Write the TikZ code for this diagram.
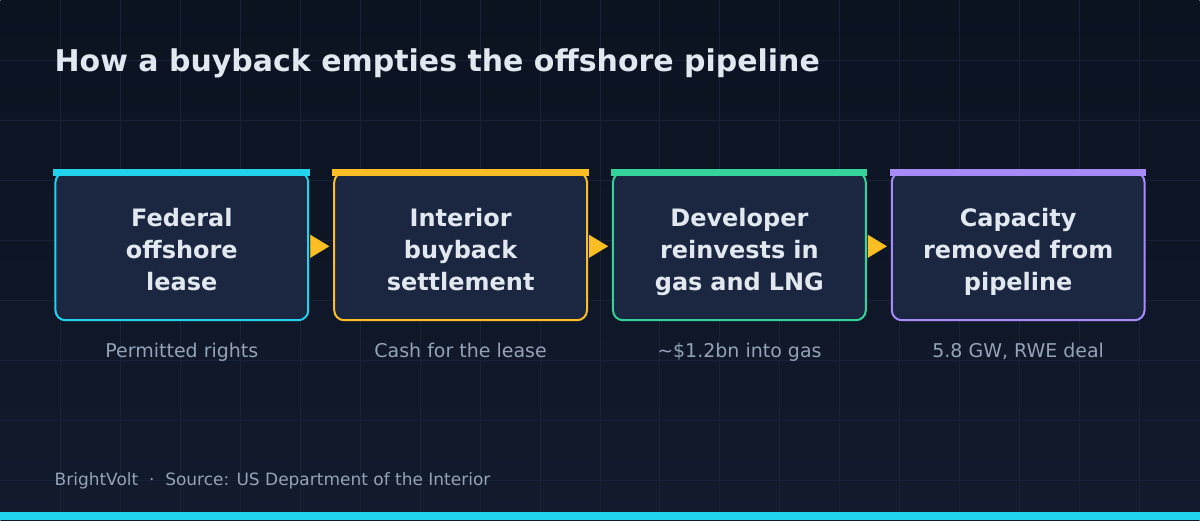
\documentclass[tikz,border=0pt]{standalone}
\usepackage{fontspec}
\setmainfont{DejaVu Sans}
\usetikzlibrary{arrows.meta, positioning}

\definecolor{bgtop}{HTML}{0B1220}
\definecolor{bgbot}{HTML}{121B2D}
\definecolor{gridln}{HTML}{17223A}
\definecolor{cardfill}{HTML}{1B2741}
\definecolor{inktext}{HTML}{E2E8F0}
\definecolor{mutetext}{HTML}{94A3B8}
\definecolor{cyanacc}{HTML}{22D3EE}
\definecolor{amberacc}{HTML}{FBBF24}
\definecolor{greenacc}{HTML}{34D399}
\definecolor{purpleacc}{HTML}{A78BFA}

\begin{document}
\begin{tikzpicture}[x=1pt, y=-1pt, >=Stealth,
    card/.style={rectangle, draw=#1, line width=2pt, fill=cardfill, rounded corners=10pt,
      minimum width=253pt, minimum height=148pt, text width=240pt, align=center, text=inktext,
      font=\bfseries\fontsize{24}{32}\selectfont,
      execute at begin node={\rule{0pt}{30pt}}, execute at end node={\rule[-6pt]{0pt}{6pt}}},
    note/.style={anchor=base, inner sep=0pt, text=mutetext, font=\fontsize{19}{22}\selectfont},
    arrow/.style={-{Triangle[length=19pt, width=23pt]}, amberacc, line width=0.1pt,
      shorten <=3pt, shorten >=4pt}]
  % backdrop
  \shade[top color=bgtop, bottom color=bgbot] (0,0) rectangle (1200,520);
  \foreach \gx in {60,120,...,1140} \draw[gridln, line width=1pt] (\gx,0) -- (\gx,520);
  \foreach \gy in {60,120,...,480} \draw[gridln, line width=1pt] (0,\gy) -- (1200,\gy);
  \useasboundingbox (0,0) rectangle (1200,520);

  \node[anchor=base west, inner sep=0pt, text=inktext, font=\bfseries\fontsize{30}{36}\selectfont] (title)
    at (54,71) {How a buyback empties the offshore pipeline};

  % the four steps
  \node[card=cyanacc] (lease) at (181.5,246) {Federal\\offshore\\lease};
  \node[card=amberacc] (settle) at (460.5,246) {Interior\\buyback\\settlement};
  \node[card=greenacc] (reinvest) at (739.5,246) {Developer\\reinvests in\\gas and LNG};
  \node[card=purpleacc] (removed) at (1018.5,246) {Capacity\\removed from\\pipeline};

  \fill[cyanacc] ([xshift=-1pt, yshift=2pt]lease.north west) rectangle ([xshift=0.5pt, yshift=-5pt]lease.north east);
  \fill[amberacc] ([xshift=-1pt, yshift=2pt]settle.north west) rectangle ([xshift=0.5pt, yshift=-5pt]settle.north east);
  \fill[greenacc] ([xshift=-1pt, yshift=2pt]reinvest.north west) rectangle ([xshift=0.5pt, yshift=-5pt]reinvest.north east);
  \fill[purpleacc] ([xshift=-1pt, yshift=2pt]removed.north west) rectangle ([xshift=0.5pt, yshift=-5pt]removed.north east);

  \node[note] (leasenote) at ([yshift=-36pt]lease.south) {Permitted rights};
  \node[note] (settlenote) at ([yshift=-36pt]settle.south) {Cash for the lease};
  \node[note] (reinvestnote) at ([yshift=-36pt]reinvest.south) {\textasciitilde\$1.2bn into gas};
  \node[note] (removednote) at ([yshift=-36pt]removed.south) {5.8 GW, RWE deal};

  \draw[arrow] (lease) -- (settle);
  \draw[arrow] (settle) -- (reinvest);
  \draw[arrow] (reinvest) -- (removed);

  % footer
  \node[anchor=base west, inner sep=0pt, text=mutetext, font=\fontsize{17}{20}\selectfont] (source)
    at (54,485) {BrightVolt~~·~~Source: US Department of the Interior};
  \fill[cyanacc] (0,512) rectangle (1200,520);
\end{tikzpicture}
\end{document}
